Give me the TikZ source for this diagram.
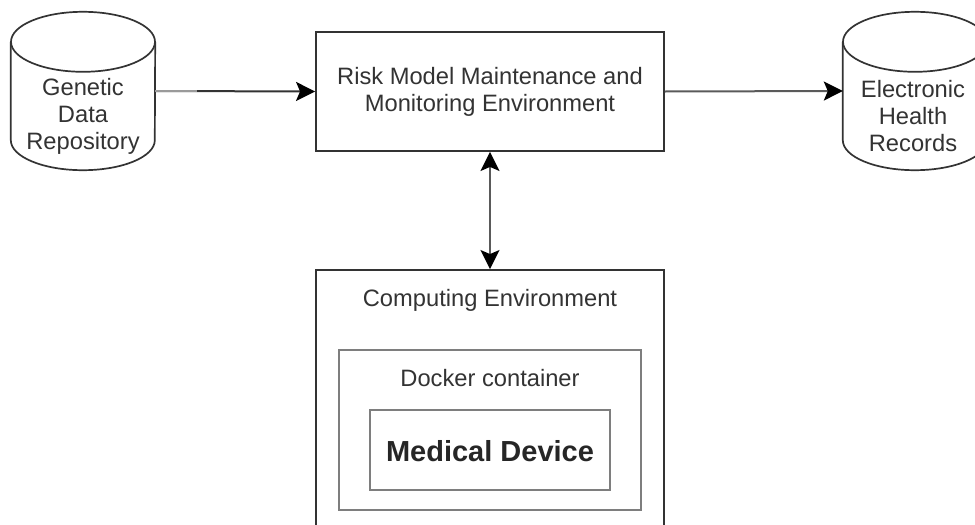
\documentclass[tikz,border=0pt]{standalone}
\usepackage{fontspec}
\setmainfont{Liberation Sans}
\usetikzlibrary{arrows.meta}
\definecolor{ink}{HTML}{333333}
\definecolor{wire}{HTML}{5A5A5A}
\definecolor{pale}{HTML}{9A9A9A}
\definecolor{frame}{HTML}{7E7E7E}
\tikzset{blocktip/.tip={Stealth[length=19pt, width=19pt, inset=4pt, color=black]}}
\begin{document}
\begin{tikzpicture}[x=1pt,y=-1pt,
  txt/.style={font=\fontsize{23.7}{27}\selectfont, text=ink, align=center, inner sep=0pt},
  bigtxt/.style={font=\fontsize{29}{33}\selectfont\bfseries, text=black!85, align=center, inner sep=0pt},
  cylbox/.style={draw=none, minimum width=144pt, minimum height=158pt, inner sep=0pt},
  cylline/.style={draw=ink, line width=1.7pt, fill=white},
  boxline/.style={draw=ink, line width=1.9pt, fill=white, inner sep=0pt},
  innerline/.style={draw=frame, line width=2.2pt, fill=white, inner sep=0pt},
  conn/.style={line width=2pt, -{blocktip}}
]
\useasboundingbox (0,0) rectangle (975,525);
\clip (0,0) rectangle (975,525);

% database cylinders (drawn from their bounding nodes)
\node[cylbox] (gen) at (83,91) {};
\node[cylbox] (ehr) at (915,91) {};
\foreach \c in {gen,ehr}{
  \draw[cylline] ([yshift=-30pt]\c.north west) -- ([yshift=30pt]\c.south west)
    arc[start angle=180, end angle=360, x radius=72pt, y radius=30pt]
    -- ([yshift=-30pt]\c.north east);
  \draw[cylline] ([yshift=-30pt]\c.north) ellipse [x radius=72pt, y radius=30pt];
}
\node[txt] (gentext) at (83,116) {Genetic\\Data\\Repository};
\node[txt] (ehrtext) at (913,116) {Electronic\\Health\\Records};

% central monitoring environment
\node[boxline, txt, minimum width=348pt, minimum height=119pt] (risk) at (490,91.5)
  {Risk Model Maintenance and\\Monitoring Environment};

% nested computing environment
\node[boxline, minimum width=348pt, minimum height=290pt] (comp) at (490,415) {};
\node[txt] (complabel) at (490,300) {Computing Environment};
\node[innerline, minimum width=302pt, minimum height=160pt] (docker) at (490,430) {};
\node[txt] (dockerlabel) at (490,378) {Docker container};
\node[innerline, minimum width=240pt, minimum height=80pt] (device) at (490,450) {};
\node[bigtxt] (devicelabel) at (490,451) {Medical Device};

% connectors
\coordinate (split) at (197,91);
\draw[conn, draw=ink] (gen.east) -- (risk.west);
\draw[line width=2pt, draw=pale] (gen.east) -- (split);
\draw[conn, draw=wire] (risk.east) -- (ehr.west);
\draw[line width=2pt, draw=wire, {blocktip}-{blocktip}] (risk.south) -- (comp.north);
\end{tikzpicture}
\end{document}
